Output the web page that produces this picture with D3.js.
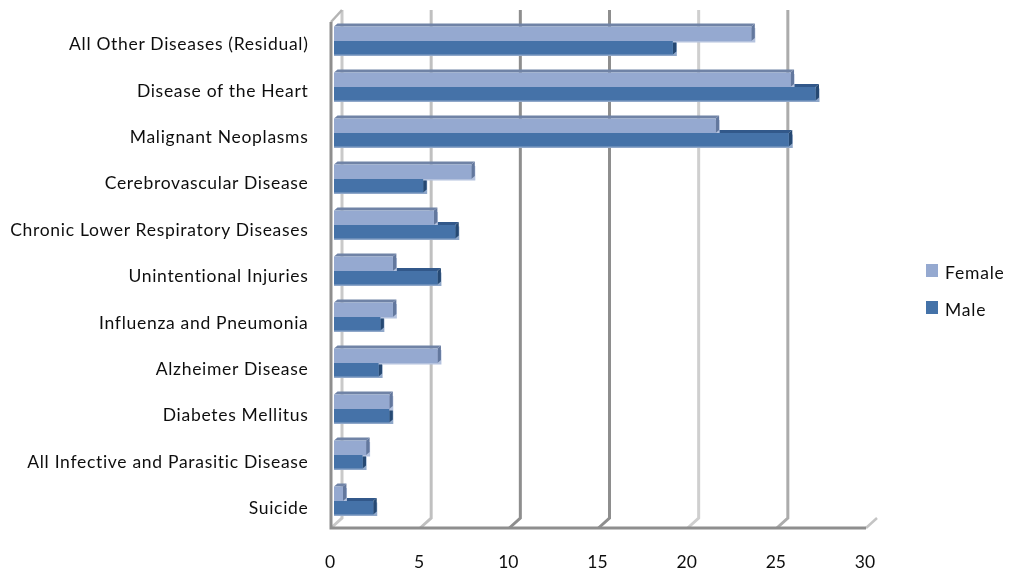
<!DOCTYPE html>
<html><head><meta charset="utf-8">
<script src="https://d3js.org/d3.v7.min.js"></script>
<style>html,body{margin:0;padding:0;background:#fff}svg{display:block}text{font-family:Lato,"Open Sans",sans-serif;fill:#111}</style>
</head><body><svg id="c" width="1018" height="576"></svg>
<script>
const categories = ["All Other Diseases (Residual)","Disease of the Heart","Malignant Neoplasms","Cerebrovascular Disease","Chronic Lower Respiratory Diseases","Unintentional Injuries","Influenza and Pneumonia","Alzheimer Disease","Diabetes Mellitus","All Infective and Parasitic Disease","Suicide"];
const female = [23.4,25.6,21.4,7.7,5.6,3.3,3.3,5.8,3.1,1.8,0.5];
const male = [19.0,27.0,25.5,5.0,6.8,5.8,2.6,2.5,3.1,1.6,2.2];
const tickValues = [0,5,10,15,20,25,30];
const seriesNames = ["Female","Male"];

const gridStroke = ["#c9c9c9","#c0c0c0","#8e8e8e","#8e8e8e","#cfcfcf","#acacac"];
const svg = d3.select("#c");
const defs = svg.append("defs");
defs.append("filter").attr("id","soft").append("feGaussianBlur").attr("stdDeviation",0.5);
defs.append("filter").attr("id","softText").append("feGaussianBlur").attr("stdDeviation",0.25);

const x = d3.scaleLinear().domain([0,30]).range([331,866]);
const yBars = d3.scaleBand().domain(categories).range([18,524]).padding(0);
const yLabels = d3.scalePoint().domain(categories).range([44,508]);

const DX=11, DY=10, FLOOR=528;
const g = svg.append("g").attr("filter","url(#soft)");

// back wall gridlines and floor diagonals
g.selectAll(".grid").data(tickValues.slice(0,-1)).join("path")
  .attr("fill","none").attr("stroke-width",3)
  .attr("stroke",(d,i)=>gridStroke[i])
  .attr("d",d=>`M${x(d)+DX},${FLOOR-DY-508}V${FLOOR-DY}L${x(d)},${FLOOR}`);
g.append("path").attr("fill","none").attr("stroke","#c4c4c4").attr("stroke-width",2.5)
  .attr("d",`M${x(30)},${FLOOR}L${x(30)+DX},${FLOOR-DY}`);
g.append("path").attr("fill","none").attr("stroke","#b4b4b4").attr("stroke-width",2.5)
  .attr("d",`M${x(0)},${FLOOR-506}L${x(0)+DX},${FLOOR-518}`);

// axis lines
g.append("path").attr("fill","none").attr("stroke","#8e8e8e").attr("stroke-width",3)
  .attr("d",`M${x(0)},${FLOOR-506}V${FLOOR}H${x(30)}`);

// 3-D bars: male depth faces sit behind the female bar, male front sits on top
const BARX=3, SX=3.5, SY=3;
const styles = {
  Female:{front:"#95a9d0",top:"#6f83a6",side:"#64789e",glow:"#b4c2de"},
  Male:{front:"#4472a8",top:"#33598a",side:"#264a73",glow:"#8fa7c9"}
};
const left = x(0)+BARX;
const right = (values,i)=>x(values[i])+BARX;
const rowTop = (d,offset)=>yBars(d)+yBars.bandwidth()/2+offset;
function depth(values,name,offset,h){
  const s = styles[name];
  const row = g.append("g").selectAll("g").data(categories).join("g");
  row.append("rect").attr("fill",s.glow)
    .attr("x",left).attr("y",d=>rowTop(d,offset)+1.5).attr("width",(d,i)=>right(values,i)-left+SX+0.5).attr("height",h);
  row.append("path").attr("fill",s.top)
    .attr("d",(d,i)=>{const t=rowTop(d,offset),r=right(values,i);return `M${left},${t}L${left+SX},${t-SY}H${r+SX}L${r},${t}Z`;});
  row.append("path").attr("fill",s.side)
    .attr("d",(d,i)=>{const t=rowTop(d,offset),r=right(values,i);return `M${r},${t}L${r+SX},${t-SY}V${t+h-SY}L${r},${t+h}Z`;});
}
function front(values,name,offset,h){
  g.append("g").selectAll("rect").data(categories).join("rect")
    .attr("fill",styles[name].front)
    .attr("x",left).attr("y",d=>rowTop(d,offset))
    .attr("width",(d,i)=>right(values,i)-left).attr("height",h);
}
depth(male,"Male",0,13.5);
depth(female,"Female",-14.5,14.5);
front(female,"Female",-14.5,14.5);
front(male,"Male",0,13.5);

const txt = svg.append("g").attr("filter","url(#softText)");
// category labels
txt.append("g").selectAll("text").data(categories).join("text")
  .attr("x",308.5).attr("y",d=>yLabels(d)).attr("dy","0.35em")
  .attr("text-anchor","end").attr("font-size",17.5).attr("letter-spacing",0.7)
  .text(d=>d);

// value axis labels
txt.append("g").selectAll("text").data(tickValues).join("text")
  .attr("x",d=>x(d)-1).attr("y",562).attr("dy","0.35em")
  .attr("text-anchor","middle").attr("font-size",17.5)
  .text(d=>d);

// legend
const legendY = d3.scalePoint().domain(seriesNames).range([273,310]);
const lg = svg.append("g").selectAll("g").data(seriesNames).join("g");
lg.append("rect").attr("x",926).attr("y",d=>legendY(d)-9).attr("width",12).attr("height",13)
  .attr("fill",d=>styles[d].front);
txt.append("g").selectAll("text").data(seriesNames).join("text")
  .attr("x",945).attr("y",d=>legendY(d)).attr("dy","0.35em").attr("font-size",17.5).attr("letter-spacing",0.8).text(d=>d);
</script></body></html>
